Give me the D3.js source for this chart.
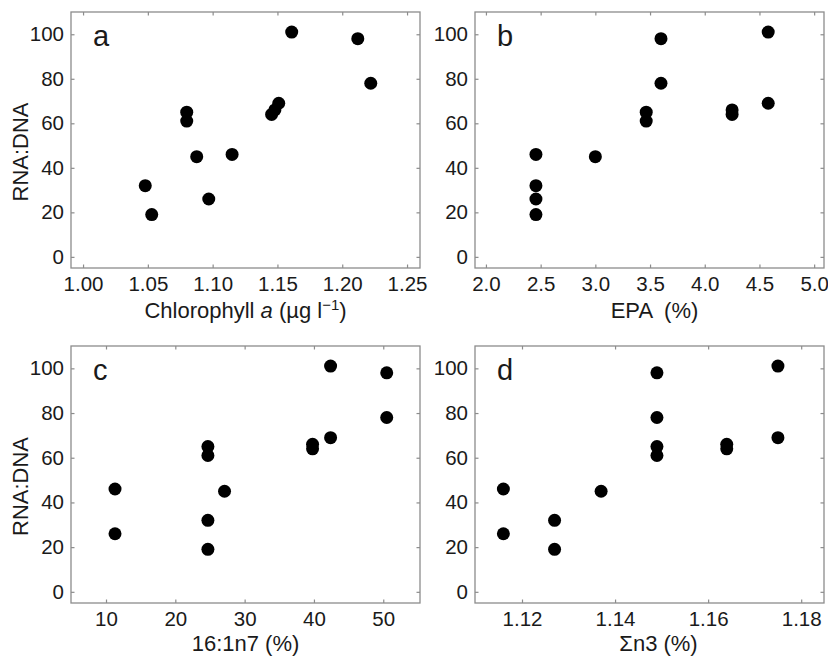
<!DOCTYPE html>
<html>
<head>
<meta charset="utf-8">
<script src="https://cdn.jsdelivr.net/npm/d3@7"></script>
<style>
  body { margin: 0; background: #fff; }
  svg text { font-family: "Liberation Sans", Arial, Helvetica, sans-serif; fill: #1a1a1a; }
</style>
</head>
<body>
<svg id="chart"></svg>
<script>
const outerWidth = 828;
const outerHeight = 656;

// RNA:DNA of each sample, and the matching predictor values
const rnaDna = [101, 98, 78, 69, 66, 64, 65, 61, 46, 45, 32, 26, 19];
const chlA   = [1.161, 1.212, 1.222, 1.151, 1.148, 1.1455, 1.080, 1.080, 1.115, 1.0877, 1.048, 1.097, 1.053];
const epa    = [4.58, 3.60, 3.60, 4.58, 4.25, 4.25, 3.465, 3.465, 2.457, 3.0, 2.457, 2.457, 2.457];
const c16    = [42.4, 50.5, 50.5, 42.4, 39.8, 39.8, 24.7, 24.7, 11.3, 27.1, 24.7, 11.3, 24.7];
const n3     = [1.175, 1.149, 1.149, 1.175, 1.164, 1.164, 1.149, 1.149, 1.116, 1.137, 1.127, 1.116, 1.127];

const yTicks = [0, 20, 40, 60, 80, 100];
const chlTicks = [1.00, 1.05, 1.10, 1.15, 1.20, 1.25];
const epaTicks = [2.0, 2.5, 3.0, 3.5, 4.0, 4.5, 5.0];
const c16Ticks = [10, 20, 30, 40, 50];
const n3Ticks = [1.12, 1.14, 1.16, 1.18];

const panels = [
  {letter: "a", x: chlA, ticks: chlTicks, fmt: ".2f", domain: [0.9907, 1.260], box: [71, 12, 420, 268], ylab: true, title: "chl", shift: 0, tdy: 50},
  {letter: "b", x: epa, ticks: epaTicks, fmt: ".1f", domain: [1.90, 5.09], box: [475, 12, 824, 268], ylab: false, title: "EPA  (%)", shift: 5, tdy: 50},
  {letter: "c", x: c16, ticks: c16Ticks, fmt: "d", domain: [4.95, 55.3], box: [71, 346, 420, 603], ylab: true, title: "16:1n7 (%)", shift: 0, tdy: 48},
  {letter: "d", x: n3, ticks: n3Ticks, fmt: ".2f", domain: [1.1099, 1.1849], box: [475, 346, 824, 603], ylab: false, title: "\u03A3n3 (%)", shift: 9, tdy: 48}
];

var svg = d3.select("#chart")
  .attr("width", outerWidth)
  .attr("height", outerHeight);

panels.forEach(function (p) {
  var [x0, y0, x1, y1] = p.box;
  var x = d3.scaleLinear().domain(p.domain).range([x0, x1]);
  var y = d3.scaleLinear().domain([-5, 110]).range([y1, y0]);
  var g = svg.append("g");

  g.append("rect")
    .attr("x", x0).attr("y", y0)
    .attr("width", x1 - x0).attr("height", y1 - y0)
    .style("fill", "none").style("stroke", "#8c8c8c").style("stroke-width", 1.3);

  var ax = g.append("g").attr("transform", "translate(0," + y1 + ")")
    .call(d3.axisBottom(x).tickValues(p.ticks).tickFormat(d3.format(p.fmt)).tickSize(-3.5).tickPadding(8));
  ax.select(".domain").remove();
  ax.selectAll("text").style("font-size", "20.5px");

  var axt = g.append("g").attr("transform", "translate(0," + y0 + ")")
    .call(d3.axisTop(x).tickValues(p.ticks).tickFormat("").tickSize(-3.5));
  axt.select(".domain").remove();

  var ay = g.append("g").attr("transform", "translate(" + x0 + ",0)")
    .call(d3.axisLeft(y).tickValues(yTicks).tickSize(-3.5).tickPadding(7));
  ay.select(".domain").remove();
  ay.selectAll("text").style("font-size", "20.5px");

  var ayr = g.append("g").attr("transform", "translate(" + x1 + ",0)")
    .call(d3.axisRight(y).tickValues(yTicks).tickFormat("").tickSize(-3.5));
  ayr.select(".domain").remove();

  g.selectAll(".tick line").style("stroke", "#8c8c8c").style("stroke-width", 1.2);

  g.append("g").selectAll("circle")
    .data(p.x)
    .enter()
    .append("circle")
    .attr("cx", d => x(d))
    .attr("cy", (d, i) => y(rnaDna[i]))
    .attr("r", 6.5)
    .style("fill", "#000");

  g.append("text")
    .attr("x", x0 + 22).attr("y", y0 + 34)
    .style("font-size", "29px")
    .text(p.letter);

  var t = g.append("text")
    .attr("x", (x0 + x1) / 2 + p.shift).attr("y", y1 + p.tdy)
    .attr("text-anchor", "middle")
    .style("font-size", "22px");
  if (p.title === "chl") {
    t.append("tspan").text("Chlorophyll ");
    t.append("tspan").style("font-style", "italic").text("a");
    t.append("tspan").text(" (\u00B5g l");
    t.append("tspan").attr("dy", -8).style("font-size", "15px").text("\u22121");
    t.append("tspan").attr("dy", 8).text(")");
  } else {
    t.style("white-space", "pre").text(p.title);
  }

  if (p.ylab) {
    g.append("text")
      .attr("transform", "translate(28," + ((y0 + y1) / 2 + 12) + ") rotate(-90)")
      .attr("text-anchor", "middle")
      .style("font-size", "22px")
      .text("RNA:DNA");
  }
});
</script>
</body>
</html>
